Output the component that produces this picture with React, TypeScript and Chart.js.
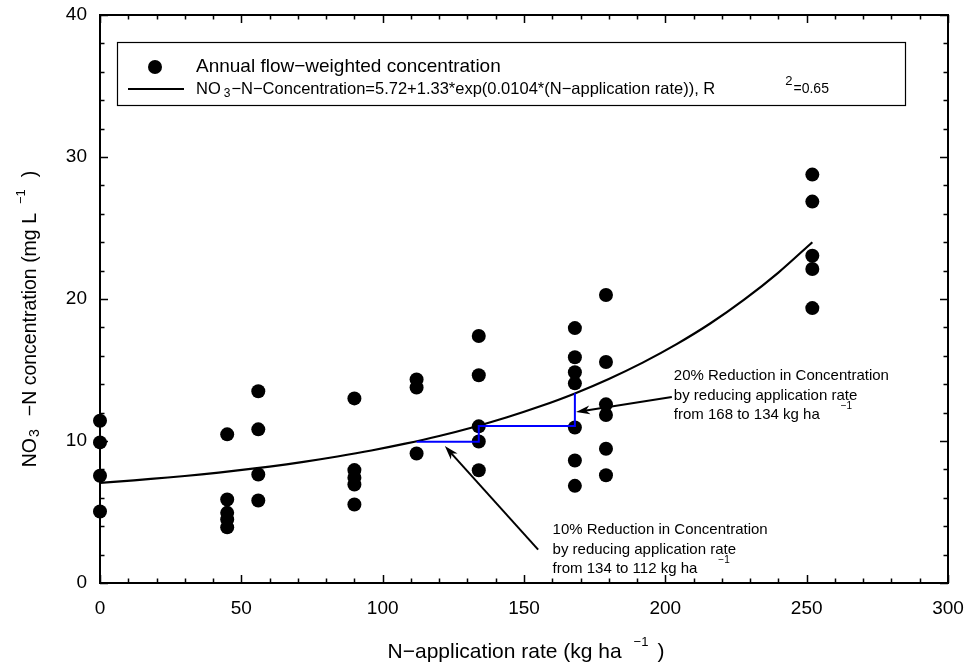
import React, { useEffect, useRef } from "react";
import { Chart, registerables } from "chart.js";

Chart.register(...registerables);

const FONT = "'Liberation Sans', Arial, Helvetica, sans-serif";

// Annual flow-weighted NO3-N concentration (mg/L) vs N-application rate (kg/ha)
const pointRates = [
  0, 0, 0, 0,
  45, 45, 45, 45, 45,
  56, 56, 56, 56,
  90, 90, 90, 90, 90,
  112, 112, 112,
  134, 134, 134, 134, 134,
  168, 168, 168, 168, 168, 168, 168,
  179, 179, 179, 179, 179, 179,
  252, 252, 252, 252, 252,
];
const pointConc = [
  11.43, 9.9, 7.55, 5.03,
  10.47, 5.88, 4.94, 4.47, 3.92,
  13.5, 10.82, 7.64, 5.81,
  13.0, 7.95, 7.42, 6.94, 5.53,
  14.33, 13.77, 9.12,
  17.39, 14.63, 11.03, 9.96, 7.94,
  17.95, 15.9, 14.84, 14.06, 10.95, 8.63, 6.84,
  20.28, 15.56, 12.58, 11.83, 9.45, 7.59,
  28.76, 26.86, 23.05, 22.11, 19.36,
];

// Fitted curve (values of the printed regression at these rates)
const fitRates = [0, 12, 24, 36, 48, 60, 72, 84, 96, 108, 120, 132, 144, 156, 168, 180, 192, 204, 216, 228, 240, 252];
const fitConc = [7.05, 7.23, 7.43, 7.65, 7.91, 8.2, 8.53, 8.91, 9.33, 9.81, 10.35, 10.97, 11.67, 12.46, 13.35, 14.37, 15.52, 16.82, 18.29, 19.97, 21.86, 24.0];

// Blue reduction steps
const reductionRates = [112, 134, 134, 168, 168];
const reductionConc = [9.95, 9.95, 11.05, 11.05, 13.36];

// Arrows (tail -> head)
const arrowTailRates = [155, 202.3];
const arrowTailConc = [2.35, 13.1];
const arrowHeadRates = [122, 168.4];
const arrowHeadConc = [9.64, 12.04];

// Annotation text
const noteAnchorRates = [160.1, 203];
const noteAnchorConc = [3.71, 14.58];
const noteLines = [
  ["10% Reduction in Concentration", "by reducing application rate", "from 134 to 112 kg ha"],
  ["20% Reduction in Concentration", "by reducing application rate", "from 168 to 134 kg ha"],
];

const xTickValues = [0, 50, 100, 150, 200, 250, 300];
const yTickValues = [0, 10, 20, 30, 40];

const legendPointLabel = "Annual flow\u2212weighted concentration";
const legendFitLabel = "\u2212N\u2212Concentration=5.72+1.33*exp(0.0104*(N\u2212application rate)), R";

type Seg = { t: string; size: number; dy?: number; gap?: number };

function richWidth(ctx: CanvasRenderingContext2D, segs: Seg[]) {
  let w = 0;
  for (const s of segs) {
    ctx.font = `${s.size}px ${FONT}`;
    w += (s.gap || 0) + ctx.measureText(s.t).width;
  }
  return w;
}

function drawRich(ctx: CanvasRenderingContext2D, segs: Seg[], x: number, y: number) {
  let cx = x;
  ctx.textAlign = "left";
  ctx.textBaseline = "middle";
  for (const s of segs) {
    cx += s.gap || 0;
    ctx.font = `${s.size}px ${FONT}`;
    ctx.fillText(s.t, cx, y + (s.dy || 0));
    cx += ctx.measureText(s.t).width;
  }
  return cx;
}

function drawArrow(ctx: CanvasRenderingContext2D, x1: number, y1: number, x2: number, y2: number) {
  const ang = Math.atan2(y2 - y1, x2 - x1);
  const L = 14;
  const W = 4.5;
  ctx.beginPath();
  ctx.moveTo(x1, y1);
  ctx.lineTo(x2 - Math.cos(ang) * 7, y2 - Math.sin(ang) * 7);
  ctx.stroke();
  const bx = x2 - Math.cos(ang) * L;
  const by = y2 - Math.sin(ang) * L;
  const nx = -Math.sin(ang);
  const ny = Math.cos(ang);
  ctx.beginPath();
  ctx.moveTo(x2, y2);
  ctx.lineTo(bx + nx * W, by + ny * W);
  ctx.lineTo(x2 - Math.cos(ang) * 10, y2 - Math.sin(ang) * 10);
  ctx.lineTo(bx - nx * W, by - ny * W);
  ctx.closePath();
  ctx.fill();
}

const overlayPlugin = {
  id: "overlay",
  afterDraw(chart: any) {
    const { ctx, chartArea: a, scales } = chart;
    const xs = scales.x;
    const ys = scales.y;
    ctx.save();
    ctx.fillStyle = "#000";
    ctx.strokeStyle = "#000";

    // frame
    ctx.lineWidth = 2;
    ctx.strokeRect(a.left, a.top, a.right - a.left, a.bottom - a.top);

    // inward ticks on all four sides
    ctx.lineWidth = 1.5;
    for (let v = xs.min; v <= xs.max; v += 10) {
      const px = Math.round(xs.getPixelForValue(v)) + 0.5;
      const len = v % 50 === 0 ? 8 : 4.5;
      ctx.beginPath();
      ctx.moveTo(px, a.bottom);
      ctx.lineTo(px, a.bottom - len);
      ctx.moveTo(px, a.top);
      ctx.lineTo(px, a.top + len);
      ctx.stroke();
    }
    for (let v = ys.min; v <= ys.max; v += 2) {
      const py = Math.round(ys.getPixelForValue(v)) + 0.5;
      const len = v % 10 === 0 ? 8 : 4.5;
      ctx.beginPath();
      ctx.moveTo(a.left, py);
      ctx.lineTo(a.left + len, py);
      ctx.moveTo(a.right, py);
      ctx.lineTo(a.right - len, py);
      ctx.stroke();
    }

    // arrows
    ctx.lineWidth = 2;
    for (let i = 0; i < arrowTailRates.length; i++) {
      drawArrow(
        ctx,
        xs.getPixelForValue(arrowTailRates[i]),
        ys.getPixelForValue(arrowTailConc[i]),
        xs.getPixelForValue(arrowHeadRates[i]),
        ys.getPixelForValue(arrowHeadConc[i])
      );
    }

    // annotation text
    for (let i = 0; i < noteLines.length; i++) {
      const x0 = xs.getPixelForValue(noteAnchorRates[i]);
      const y0 = ys.getPixelForValue(noteAnchorConc[i]);
      noteLines[i].forEach((t, j) => {
        const y = y0 + j * 19.5;
        const end = drawRich(ctx, [{ t, size: 15 }], x0, y);
        if (j === 2) {
          drawRich(ctx, [{ t: "\u22121", size: 10, gap: 0 }], end + 21, y - 9);
        }
      });
    }

    // legend box
    const lx = a.left + 17;
    const ly = a.top + 27;
    const lw = 788;
    const lh = 63;
    ctx.fillStyle = "#fff";
    ctx.fillRect(lx, ly, lw, lh);
    ctx.lineWidth = 1.2;
    ctx.strokeRect(lx + 0.5, ly + 0.5, lw, lh);
    ctx.fillStyle = "#000";
    ctx.beginPath();
    ctx.arc(lx + 38, ly + 25, 7, 0, Math.PI * 2);
    ctx.fill();
    drawRich(ctx, [{ t: legendPointLabel, size: 19 }], lx + 79, ly + 25);
    ctx.lineWidth = 2;
    ctx.beginPath();
    ctx.moveTo(lx + 11, ly + 47);
    ctx.lineTo(lx + 67, ly + 47);
    ctx.stroke();
    const e2 = drawRich(
      ctx,
      [
        { t: "NO", size: 16.5 },
        { t: "3", size: 12, dy: 5, gap: 3 },
        { t: legendFitLabel, size: 16.5, gap: 1 },
      ],
      lx + 79,
      ly + 47
    );
    drawRich(
      ctx,
      [
        { t: "2", size: 13, dy: -8, gap: 70 },
        { t: "=0.65", size: 14, gap: 1 },
      ],
      e2,
      ly + 47
    );

    // x axis title
    const xSegs: Seg[] = [
      { t: "N\u2212application rate (kg ha", size: 21 },
      { t: "\u22121", size: 13, dy: -10, gap: 12 },
      { t: ")", size: 21, gap: 9 },
    ];
    const xw = richWidth(ctx, xSegs);
    drawRich(ctx, xSegs, (a.left + a.right) / 2 + 2 - xw / 2, 652);

    // y axis title (rotated)
    const ySegs: Seg[] = [
      { t: "NO", size: 19.5 },
      { t: "3", size: 14, dy: 4, gap: 1 },
      { t: "\u2212N concentration (mg L", size: 19.5, gap: 13 },
      { t: "\u22121", size: 13, dy: -10, gap: 9 },
      { t: ")", size: 19.5, gap: 12 },
    ];
    const yw = richWidth(ctx, ySegs);
    ctx.translate(31, 319);
    ctx.rotate(-Math.PI / 2);
    drawRich(ctx, ySegs, -yw / 2, 0);
    ctx.restore();
  },
};

export default function App() {
  const ref = useRef<HTMLCanvasElement | null>(null);

  useEffect(() => {
    if (!ref.current) return;
    const chart = new Chart(ref.current, {
      type: "scatter",
      data: {
        datasets: [
          {
            type: "line",
            label: "reduction",
            data: reductionRates.map((x, i) => ({ x, y: reductionConc[i] })),
            borderColor: "#0000ff",
            borderWidth: 2,
            pointRadius: 0,
            fill: false,
            clip: false,
            order: 0,
          } as any,
          {
            type: "line",
            label: "fit",
            data: fitRates.map((x, i) => ({ x, y: fitConc[i] })),
            borderColor: "#000",
            borderWidth: 2.2,
            pointRadius: 0,
            tension: 0.3,
            fill: false,
            clip: false,
            order: 1,
          } as any,
          {
            type: "scatter",
            label: legendPointLabel,
            data: pointRates.map((x, i) => ({ x, y: pointConc[i] })),
            backgroundColor: "#000",
            borderColor: "#000",
            pointRadius: 7,
            pointBorderWidth: 0,
            clip: false,
            order: 2,
          } as any,
        ],
      },
      options: {
        animation: false,
        responsive: false,
        maintainAspectRatio: false,
        layout: { padding: { top: 15, right: 17, left: 0, bottom: 0 } },
        plugins: { legend: { display: false }, tooltip: { enabled: false } },
        scales: {
          x: {
            type: "linear",
            min: 0,
            max: 300,
            grid: { display: false, drawTicks: false },
            border: { display: false },
            afterFit: (s: any) => {
              s.height = 83;
              s.paddingLeft = 0;
              s.paddingRight = 0;
            },
            afterBuildTicks: (s: any) => {
              s.ticks = xTickValues.map((v) => ({ value: v }));
            },
            ticks: {
              color: "#000",
              padding: 14,
              font: { family: FONT, size: 19 },
              maxRotation: 0,
            },
          },
          y: {
            type: "linear",
            min: 0,
            max: 40,
            grid: { display: false, drawTicks: false },
            border: { display: false },
            afterFit: (s: any) => {
              s.width = 100;
              s.paddingTop = 0;
              s.paddingBottom = 0;
            },
            afterBuildTicks: (s: any) => {
              s.ticks = yTickValues.map((v) => ({ value: v }));
            },
            ticks: {
              color: "#000",
              padding: 13,
              font: { family: FONT, size: 19 },
            },
          },
        },
      },
      plugins: [overlayPlugin],
    });
    return () => chart.destroy();
  }, []);

  return (
    <div style={{ position: "absolute", left: 0, top: 0, width: 965, height: 666, background: "#fff" }}>
      <canvas ref={ref} width={965} height={666} style={{ display: "block", width: 965, height: 666 }} />
    </div>
  );
}
